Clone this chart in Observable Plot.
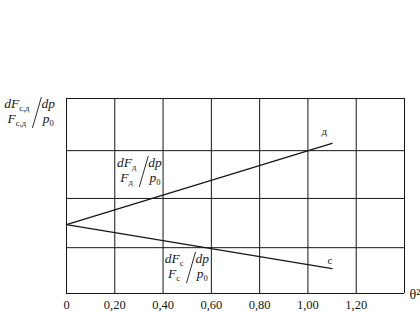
<!DOCTYPE html>
<html>
<head>
<meta charset="utf-8">
<script src="https://cdn.jsdelivr.net/npm/d3@7"></script>
<script src="https://cdn.jsdelivr.net/npm/@observablehq/plot@0.6"></script>
<style>
  html, body { margin: 0; padding: 0; background: #fff; }
</style>
</head>
<body>
<div id="chart"></div>
<script>
// ---- data ----
const xTicks = [0, 0.2, 0.4, 0.6, 0.8, 1.0, 1.2];          // labelled θ² ticks
const xGrid  = [0, 0.2, 0.4, 0.6, 0.8, 1.0, 1.2, 1.4];     // vertical grid lines
const yGrid  = [0, 0.94, 1.95, 2.93, 4.0];                  // horizontal grid lines (unlabelled axis)
const theta2 = [0, 1.1];                                    // x of line ends
const seriesD = [1.415, 3.08];                              // curve "д"
const seriesC = [1.415, 0.51];                              // curve "с"
const curveNames = ["д", "с"];
const curveLabelX = [1.068, 1.091];
const curveLabelY = [3.333, 0.677];
const axisTitle = ["θ²"];
// fraction annotations  dF_x / F_x  /  dp / p0
const fracSubs = ["с,д", "д", "с"];
const fracX = [-0.256, 0.211, 0.409];
const fracY = [3.795, 2.585, 0.615];

const rows = [];
theta2.forEach((t, i) => {
  rows.push({x: t, y: seriesD[i], s: "д"});
  rows.push({x: t, y: seriesC[i], s: "с"});
});
const curveLabels = curveNames.map((n, i) => ({n, x: curveLabelX[i], y: curveLabelY[i]}));

const ink = "#161616";
const serif = "Liberation Serif, DejaVu Serif, serif";

const plot = Plot.plot({
  width: 420,
  height: 312,
  marginLeft: 66,
  marginRight: 16,
  marginTop: 98,
  marginBottom: 19,
  style: {fontFamily: serif, fontSize: "12px", background: "#fff", color: ink},
  x: {domain: [0, 1.4]},
  y: {domain: [0, 4], axis: null},
  marks: [
    Plot.ruleX(xGrid, {stroke: ink, strokeWidth: 1}),
    Plot.ruleY(yGrid, {stroke: ink, strokeWidth: 1}),
    Plot.line(rows, {x: "x", y: "y", z: "s", stroke: ink, strokeWidth: 1.3}),
    Plot.axisX(xTicks, {
      tickSize: 0, tickPadding: 6.5, label: null, fontSize: 12.5, fontFamily: serif,
      tickFormat: d => d === 0 ? "0" : d.toFixed(2).replace(".", ",")
    }),
    Plot.text(curveLabels, {x: "x", y: "y", text: "n", fontSize: 11, fill: ink, fontFamily: serif}),
    Plot.text(axisTitle, {x: () => xGrid[xGrid.length - 1], y: () => yGrid[0], text: d => d,
      textAnchor: "start", dx: 5, dy: 1, fontSize: 14, fill: ink, fontFamily: serif})
  ]
});
document.getElementById("chart").append(plot);

// ---- fraction annotations placed through the plot's scales ----
const sx = plot.scale("x"), sy = plot.scale("y");
const svg = d3.select(plot);
const fs = 13.5, ss = 8.5, gapY = 15;

function frac(px, py, sub) {
  const G = svg.append("g")
    .attr("transform", `translate(${px},${py})`)
    .attr("font-family", serif)
    .attr("text-anchor", "start")
    .attr("fill", ink);
  const t1 = G.append("text").attr("font-size", fs).attr("font-style", "italic");
  t1.append("tspan").text("dF");
  t1.append("tspan").attr("font-size", ss).attr("font-style", "normal").attr("dy", 3).text(sub);
  const t2 = G.append("text").attr("font-size", fs).attr("font-style", "italic").attr("y", gapY);
  t2.append("tspan").text("F");
  t2.append("tspan").attr("font-size", ss).attr("font-style", "normal").attr("dy", 3).text(sub);
  const w1 = t1.node().getComputedTextLength();
  const w2 = t2.node().getComputedTextLength();
  const W = Math.max(w1, w2);
  t1.attr("x", (W - w1) / 2);
  t2.attr("x", (W - w2) / 2);
  G.append("line")
    .attr("x1", W + 3).attr("y1", gapY + 5)
    .attr("x2", W + 12).attr("y2", -11)
    .attr("stroke", ink).attr("stroke-width", 0.9);
  const xr = W + 12;
  const t3 = G.append("text").attr("font-size", fs).attr("font-style", "italic").text("dp");
  const t4 = G.append("text").attr("font-size", fs).attr("font-style", "italic").attr("y", gapY);
  t4.append("tspan").text("p");
  t4.append("tspan").attr("font-size", ss).attr("font-style", "normal").attr("dy", 3).text("0");
  const w3 = t3.node().getComputedTextLength();
  const w4 = t4.node().getComputedTextLength();
  const W2 = Math.max(w3, w4);
  t3.attr("x", xr + (W2 - w3) / 2);
  t4.attr("x", xr + (W2 - w4) / 2);
}
fracSubs.forEach((s, i) => frac(sx.apply(fracX[i]), sy.apply(fracY[i]), s));
</script>
</body>
</html>
